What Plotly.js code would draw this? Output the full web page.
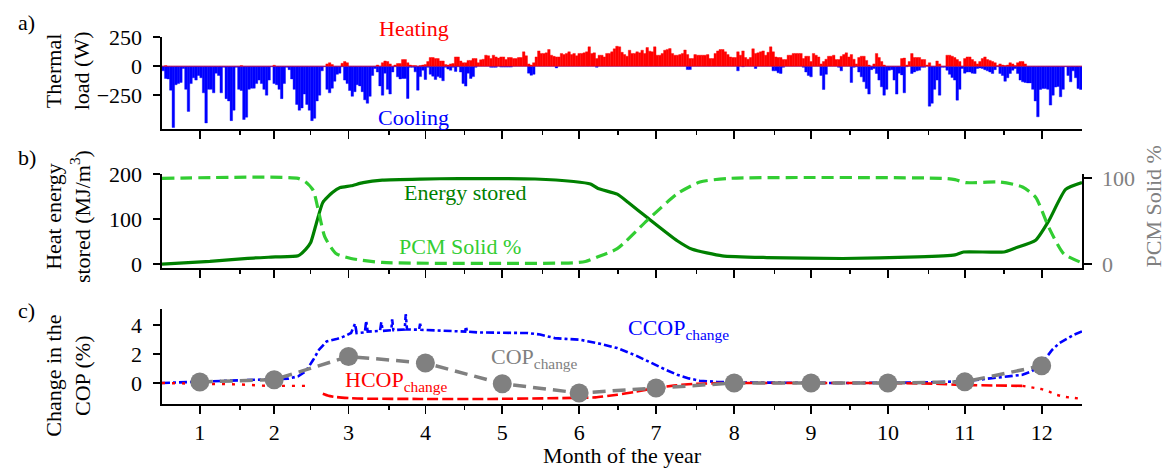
<!DOCTYPE html>
<html>
<head>
<meta charset="utf-8">
<script src="https://cdn.plot.ly/plotly-3.0.1.min.js"></script>
<style>html,body{margin:0;padding:0;background:#fff}#chart{width:1168px;height:468px}</style>
</head>
<body>
<div id="chart"></div>
<script>
// ---------- DATA ----------
const monthLabels = ['1','2','3','4','5','6','7','8','9','10','11','12'];
const monthStartDays = [0,31,59,90,120,151,181,212,243,273,304,334,365];

// a) daily thermal load (W)
const coolingLoad = [
-40,-106,-110,-207,-529,-160,-150,-140,-20,-200,
-390,-150,-100,-120,-80,-100,-230,-490,-200,-200,
-230,-60,-80,-230,-10,-280,-300,-470,-380,-10,
-200,-210,-460,-440,-200,-190,-190,-150,-120,-150,
-200,-250,-120,-5,-150,-160,-200,-280,-150,-10,
-30,-110,-200,-330,-380,-360,-240,-330,-380,-470,
-450,-300,-250,-40,-5,-200,-230,-190,-130,-70,
-60,-5,-120,-150,-210,-260,-220,-160,-170,-220,
-290,-320,-260,-80,-20,-50,-170,-250,-60,-200,
-240,-50,-5,-92,-110,-106,-106,-279,-10,-10,
-49,-207,-90,-35,-115,-10,-70,-86,-115,-90,
-100,-126,-10,-25,-35,-10,-45,-5,-50,-150,
-172,-60,-106,-90,-10,0,0,0,0,0,
-10,-10,-10,0,-8,-8,-8,-8,-8,0,
0,0,0,0,0,-60,-78,-70,0,0,
0,0,0,0,0,0,-15,0,0,0,
0,0,0,0,0,0,0,0,0,0,
0,0,-10,0,0,0,0,0,0,0,
0,0,0,0,0,0,0,0,0,0,
0,0,0,0,0,0,0,0,0,0,
0,0,0,0,0,0,0,0,-29,-29,
0,0,0,0,0,0,0,0,0,0,
0,0,0,0,0,0,0,0,-40,0,
-5,0,0,0,0,-20,0,0,0,0,
0,0,-40,-40,-57,-63,-10,0,0,0,
0,0,0,0,-10,-50,-80,-92,0,0,
0,-80,-201,-70,0,0,0,0,-10,-40,
0,0,0,-141,-10,-5,-50,-92,-135,-193,
-241,-30,-20,-63,-120,-178,-250,-200,-35,-30,
-120,-241,-60,-75,-230,-5,0,-63,-50,-40,
-35,-10,-10,0,-345,-320,-200,-120,-250,-10,
-10,-35,-70,-98,-120,-293,-200,-20,-60,-50,
-50,-60,-63,-20,-15,-20,-30,-40,-50,-63,
-30,-5,-63,-80,-130,-100,-63,-35,-20,-63,
-120,-135,-140,-144,-144,-200,-300,-437,-201,-193,
-193,-200,-336,-250,-180,-175,-264,-200,-5,-80,
-135,-40,-100,-193,-201
];
const heatingLoad = [
0,5,0,0,0,0,0,0,0,0,
0,0,0,0,0,0,0,0,0,0,
0,0,0,0,0,0,0,0,0,0,
0,5,0,0,0,0,0,0,0,0,
0,0,0,0,8,0,0,0,0,0,
0,0,0,0,0,0,0,0,0,0,
0,0,0,0,0,20,30,15,0,0,
0,25,40,30,0,0,0,0,0,0,
0,0,0,0,0,10,0,30,45,40,
20,0,10,23,23,57,57,30,10,5,
5,0,5,10,15,40,75,75,66,66,
45,45,15,10,20,23,80,80,45,30,
30,50,50,66,66,30,55,60,95,90,
66,95,80,70,80,80,57,75,75,66,
66,75,75,124,90,20,10,30,80,132,
110,110,115,144,95,85,80,80,110,100,
110,124,100,110,90,110,110,115,124,167,
110,115,66,95,95,80,110,110,124,150,
172,167,120,100,86,138,110,110,124,115,
138,110,161,130,124,167,95,95,110,138,
145,152,110,95,95,100,110,140,100,66,
66,100,95,95,95,95,100,66,66,110,
132,144,144,124,100,80,75,75,124,95,
132,75,60,75,150,110,115,124,132,95,
120,167,124,80,75,75,57,57,95,95,
110,110,110,110,66,86,86,40,110,95,
80,20,40,60,86,86,95,57,57,86,
100,115,80,100,60,20,75,86,86,50,
10,0,20,109,75,40,10,0,0,0,
0,0,0,66,70,10,40,109,75,75,
75,57,57,10,30,0,0,45,20,0,
0,95,95,86,75,57,40,0,66,80,
80,57,40,20,40,66,80,57,50,40,
30,5,20,10,5,10,30,20,5,30,
40,40,20,0,0,0,0,0,0,0,
0,0,0,0,0,0,0,0,0,0,
0,0,0,0,0
];

// b) heat energy stored (MJ/m3) and PCM solid fraction (%)
const energyDays   = [0,19,34,45,54,57,59,61.5,63.8,67.6,70.7,75,79.8,87.4,102.6,117.7,148,163.3,170,173,180.6,185,192.5,204.4,210.4,222.3,240,270,299.7,314.6,318,334,338.4,346.6,351.8,358.5,365];
const energyStored = [0,6,13,16,18.5,33,48,96,137,159,170,174,181,186.6,189,190,189,183.5,178,168,155.5,137,103.5,52,33,18.5,14.7,12.5,16,20.7,27,27,35.5,53,96,166,181];
const pcmDays      = [0,54,57,60,62.3,64.6,69,75,87.4,163,168,172.5,180.6,192.5,204.4,213.4,225.3,310,314.6,319,332.5,341.4,346.6,351.8,357.8,365];
const pcmSolid     = [100,100,95.7,86,59,31.7,12.4,6.6,2,1.5,3,8,18,51,82,95.7,100,100,98.5,95,95.7,90,78,43,12,1.5];

// c) change in COP (%)
const ccopDays  = [0,20,41.8,50,54,57,60,62.3,65.3,69.2,72,75,76.6,77.2,80.5,81,81.6,86.5,87,87.6,91,91.3,91.8,96.3,96.7,97.2,102,102.4,102.9,110,120.3,120.6,121,125.4,135,145,150,155.8,160,165.7,172.5,180.6,188,195.5,200,204.4,209,213.3,220,228.2,250,270,290,307,320,329.5,336,341.4,345,348.7,351,353.2,356,359.2,362,365];
const ccopChange= [0,0.1,0.23,0.3,0.46,0.8,1.6,2.3,2.87,3.03,3.2,3.45,4.1,3.45,3.5,4.3,3.55,3.6,4.2,3.6,3.65,4.4,3.65,3.7,4.75,3.7,3.68,4.1,3.67,3.63,3.55,3.9,3.55,3.49,3.45,3.45,3.35,3.1,3.05,2.99,2.76,2.41,1.9,1.26,0.9,0.57,0.32,0.16,0.08,0.04,0,0,0.02,0.05,0.15,0.34,0.45,0.57,0.8,1.26,1.8,2.3,2.75,3.1,3.35,3.56];
const hcopWinterDays = [0,10,20,31,42,50,57];
const hcopWinter     = [0,-0.02,-0.05,-0.1,-0.2,-0.2,-0.2];
const hcopMainDays   = [63.8,66,69,75,79.8,102,130,163,172,180.6,188,195.5,203,210.4,225.3,250,280,307,317.4,330,341.4];
const hcopMain       = [-0.74,-0.88,-0.97,-1.05,-1.08,-1.1,-1.1,-1.03,-0.99,-0.81,-0.6,-0.35,-0.18,-0.07,0,0,0,-0.05,-0.14,-0.17,-0.2];
const hcopTailDays   = [341.4,345,348.7,352,354.7,358,362,365];
const hcopTail       = [-0.2,-0.28,-0.41,-0.6,-0.81,-0.95,-1.05,-1.1];
const copMonthly     = [0.07,0.23,1.83,1.38,-0.05,-0.69,-0.35,0.0,0.0,0.0,0.08,1.19];

// ---------- DERIVED ----------
const monthMid = monthLabels.map((m,i)=>(monthStartDays[i]+monthStartDays[i+1])/2-0.5);
const minorVals = monthStartDays.slice(1,-1);
const dayCenters = coolingLoad.map((v,i)=>i+0.5);

// ---------- LAYOUT GEOMETRY ----------
const W=1168,H=468,L=161.5,R=86,T=36.7,B=63.7;
const px = x => (x-L)/(W-L-R);
const py = y => (H-B-y)/(H-T-B);

const FONT = "'Liberation Serif', 'Times New Roman', serif";
const BLUE='#0000ff', RED='#ff0000', DGREEN='#008000', LGREEN='#32cd32', GRAY='#808080';

const xCommon = {
  range:[0,365], showline:true, linecolor:'black', linewidth:2, mirror:false,
  ticks:'outside', ticklen:7.5, tickwidth:1.8, tickcolor:'black',
  tickmode:'array', tickvals:monthMid, ticktext:monthLabels,
  minor:{tickmode:'array', tickvals:minorVals, ticks:'outside', ticklen:4, tickwidth:1.5, tickcolor:'black'},
  showgrid:false, zeroline:false, fixedrange:true, automargin:false,
  tickfont:{family:FONT, size:22, color:'black'}, ticklabelstandoff:0
};
const yCommon = {
  showline:true, linecolor:'black', linewidth:2,
  ticks:'outside', ticklen:7.5, tickwidth:1.8, tickcolor:'black',
  tickmode:'array', showgrid:false, zeroline:false, fixedrange:true, automargin:false,
  tickfont:{family:FONT, size:22, color:'black'}, ticklabelstandoff:6
};

const traces = [
  // a)
  {type:'bar', x:dayCenters, y:coolingLoad, width:1, xaxis:'x3', yaxis:'y3', name:'Cooling',
   marker:{color:BLUE, line:{color:BLUE, width:0.4}}, hoverinfo:'skip'},
  {type:'bar', x:dayCenters, y:heatingLoad, width:1, xaxis:'x3', yaxis:'y3', name:'Heating',
   marker:{color:RED, line:{color:RED, width:0.4}}, hoverinfo:'skip'},
  // b)
  {type:'scatter', mode:'lines', x:pcmDays, y:pcmSolid, xaxis:'x2', yaxis:'y4', name:'PCM Solid %',
   line:{color:LGREEN, width:3.2, dash:'12px,6px', shape:'spline', smoothing:0.6}},
  {type:'scatter', mode:'lines', x:energyDays, y:energyStored, xaxis:'x2', yaxis:'y2', name:'Energy stored',
   line:{color:DGREEN, width:3.2, shape:'spline', smoothing:0.5}},
  // c)
  {type:'scatter', mode:'lines', x:ccopDays, y:ccopChange, xaxis:'x', yaxis:'y', name:'CCOP change',
   line:{color:BLUE, width:2.6, dash:'8px,3px,3px,3px'}},
  {type:'scatter', mode:'lines', x:hcopWinterDays, y:hcopWinter, xaxis:'x', yaxis:'y', name:'HCOP change',
   line:{color:RED, width:2.4, dash:'3px,7px'}},
  {type:'scatter', mode:'lines', x:hcopMainDays, y:hcopMain, xaxis:'x', yaxis:'y', name:'HCOP change',
   line:{color:RED, width:2.6, dash:'11px,4px', shape:'spline', smoothing:0.5}},
  {type:'scatter', mode:'lines', x:hcopTailDays, y:hcopTail, xaxis:'x', yaxis:'y', name:'HCOP change',
   line:{color:RED, width:2.4, dash:'3px,6px'}},
  {type:'scatter', mode:'lines+markers', x:monthMid, y:copMonthly, xaxis:'x', yaxis:'y', name:'COP change',
   line:{color:GRAY, width:3.5, dash:'13px,7px'}, marker:{color:GRAY, size:19}}
];

function ann(text, x, y, color, opts){
  return Object.assign({text, xref:'paper', yref:'paper', x:px(x), y:py(y),
    xanchor:'center', yanchor:'middle', showarrow:false,
    font:{family:FONT, size:22, color:color||'black'}}, opts||{});
}

const layout = {
  width:W, height:H,
  margin:{l:L, r:R, t:T, b:B, pad:0},
  paper_bgcolor:'white', plot_bgcolor:'white',
  font:{family:FONT, size:22, color:'black'},
  showlegend:false, barmode:'overlay', bargap:0,
  xaxis:  Object.assign({}, xCommon, {anchor:'y', domain:[0,1],
            title:{text:'Month of the year', font:{family:FONT, size:22}, standoff:8}}),
  xaxis2: Object.assign({}, xCommon, {anchor:'y2', domain:[0,1], matches:'x', showticklabels:false}),
  xaxis3: Object.assign({}, xCommon, {anchor:'y3', domain:[0,1], matches:'x', showticklabels:false}),
  yaxis:  Object.assign({}, yCommon, {anchor:'x', domain:[0, py(309.3)], range:[-1.45,5.1], tickvals:[0,2,4]}),
  yaxis2: Object.assign({}, yCommon, {anchor:'x2', domain:[py(268.5), py(174)], range:[-9.5,200], tickvals:[0,100,200]}),
  yaxis3: Object.assign({}, yCommon, {anchor:'x3', domain:[py(129.3), 1], range:[-546,252], tickvals:[-250,0,250]}),
  yaxis4: Object.assign({}, yCommon, {anchor:'x2', overlaying:'y2', side:'right', range:[-5,105], tickvals:[0,100],
            tickfont:{family:FONT, size:22, color:GRAY}}),
  annotations:[
    ann('a)', 26, 22), ann('b)', 26, 157), ann('c)', 26, 311),
    ann('Thermal<br>load (W)', 67.5, 71, 'black', {textangle:-90}),
    ann('Heat energy<br>stored (MJ/m<sup>3</sup>)', 67.5, 217, 'black', {textangle:-90}),
    ann('Change in the<br>COP (%)', 67.5, 376, 'black', {textangle:-90}),
    ann('PCM Solid %', 1153.7, 206.7, GRAY, {textangle:-90}),
    ann('Heating', 414, 28, RED),
    ann('Cooling', 413, 117, BLUE),
    ann('Energy stored', 465, 192, DGREEN),
    ann('PCM Solid %', 460, 247, LGREEN),
    ann('CCOP<sub>change</sub>', 678, 329, BLUE),
    ann('COP<sub>change</sub>', 534, 358, GRAY),
    ann('HCOP<sub>change</sub>', 396, 381, RED)
  ]
};

Plotly.newPlot('chart', traces, layout, {staticPlot:true, displayModeBar:false});
</script>
</body>
</html>
